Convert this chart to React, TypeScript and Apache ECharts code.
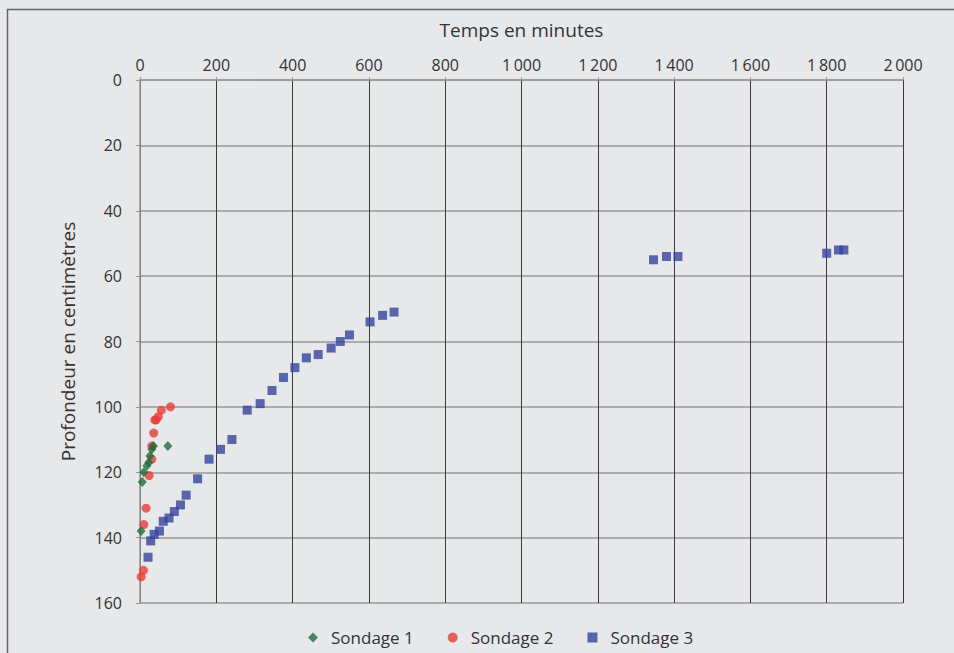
import React, { useEffect, useRef } from "react";
import * as echarts from "echarts";

const xTitle = "Temps en minutes";
const yTitle = "Profondeur en centimètres";
const seriesNames = ["Sondage 1", "Sondage 2", "Sondage 3"];

const s1Time = [73, 35, 31, 26, 23, 18, 10, 6, 3];
const s1Depth = [112, 112, 113, 115, 117, 118, 120, 123, 138];

const s2Time = [80, 56, 48, 42, 39, 36, 31, 31, 24, 16, 10, 9, 3];
const s2Depth = [100, 101, 103, 104, 104, 108, 112, 116, 121, 131, 136, 150, 152];

const s3Time = [21, 28, 37, 51, 61, 76, 90, 106, 121, 151, 181, 211, 241, 281, 315, 346, 376, 406, 436, 467, 501, 525, 549, 603, 636, 666, 1346, 1380, 1410, 1800, 1831, 1845];
const s3Depth = [146, 141, 139, 138, 135, 134, 132, 130, 127, 122, 116, 113, 110, 101, 99, 95, 91, 88, 85, 84, 82, 80, 78, 74, 72, 71, 55, 54, 54, 53, 52, 52];

const pair = (xs: number[], ys: number[]) => xs.map((x, i) => [x, ys[i]]);

const FONT = "'Open Sans', sans-serif";

export default function App() {
  const ref = useRef<HTMLDivElement>(null);
  useEffect(() => {
    if (!ref.current) return;
    const chart = echarts.init(ref.current, undefined, { renderer: "svg" });
    chart.setOption({
      animation: false,
      backgroundColor: "#e7e8ea",
      textStyle: { fontFamily: FONT },
      graphic: [
        {
          type: "rect",
          shape: { x: 7.5, y: 9.5, width: 1000, height: 700 },
          style: { fill: "none", stroke: "#666", lineWidth: 1.5 },
          silent: true,
          z: -1,
        },
      ],
      grid: { left: 140, top: 80, right: 51, bottom: 50, containLabel: false },
      legend: {
        bottom: 2,
        left: 303,
        itemWidth: 10,
        itemHeight: 10,
        itemGap: 34,
        textStyle: { fontSize: 17, color: "#333", fontFamily: FONT, padding: [0, 0, 0, 8] },
        data: [
          { name: seriesNames[0], icon: "diamond" },
          { name: seriesNames[1], icon: "circle" },
          { name: seriesNames[2], icon: "rect" },
        ],
      },
      xAxis: {
        type: "value",
        position: "top",
        min: 0,
        max: 2000,
        interval: 200,
        name: xTitle,
        nameLocation: "middle",
        nameGap: 41,
        nameTextStyle: { fontSize: 19, color: "#333", fontFamily: FONT },
        axisLine: { show: true, lineStyle: { color: "#999", width: 1.5 } },
        axisTick: { show: true, length: 3, lineStyle: { color: "#999" } },
        axisLabel: {
          fontSize: 16,
          color: "#333",
          margin: 7,
          formatter: (v: number) => (v >= 1000 ? v.toLocaleString("fr-FR").replace(/\s/g, "\u2009") : String(v)),
        },
        splitLine: { show: true, lineStyle: { color: "#3a3a3a", width: 1 } },
      },
      yAxis: {
        type: "value",
        inverse: true,
        min: 0,
        max: 160,
        interval: 20,
        name: yTitle,
        nameLocation: "middle",
        nameGap: 63,
        nameRotate: 90,
        nameTextStyle: { fontSize: 19, color: "#333", fontFamily: FONT },
        axisLine: { show: true, lineStyle: { color: "#999", width: 1.5 } },
        axisTick: { show: true, length: 4, lineStyle: { color: "#999" } },
        axisLabel: { fontSize: 16, color: "#333", margin: 18 },
        splitLine: { show: true, lineStyle: { color: "#999", width: 1.5 } },
      },
      series: [
        {
          name: seriesNames[0],
          type: "scatter",
          symbol: "diamond",
          symbolSize: [9, 10],
          itemStyle: { color: "#1e6b3a" },
          data: pair(s1Time, s1Depth),
          z: 4,
        },
        {
          name: seriesNames[1],
          type: "scatter",
          symbol: "circle",
          symbolSize: 9,
          itemStyle: { color: "#e73c3c" },
          data: pair(s2Time, s2Depth),
          z: 3,
        },
        {
          name: seriesNames[2],
          type: "scatter",
          symbol: "rect",
          symbolSize: 9,
          itemStyle: { color: "#34449c" },
          data: pair(s3Time, s3Depth),
          z: 2,
        },
      ],
    });
    return () => chart.dispose();
  }, []);
  return <div ref={ref} style={{ width: 954, height: 653, position: "absolute", left: 0, top: 0 }} />;
}
